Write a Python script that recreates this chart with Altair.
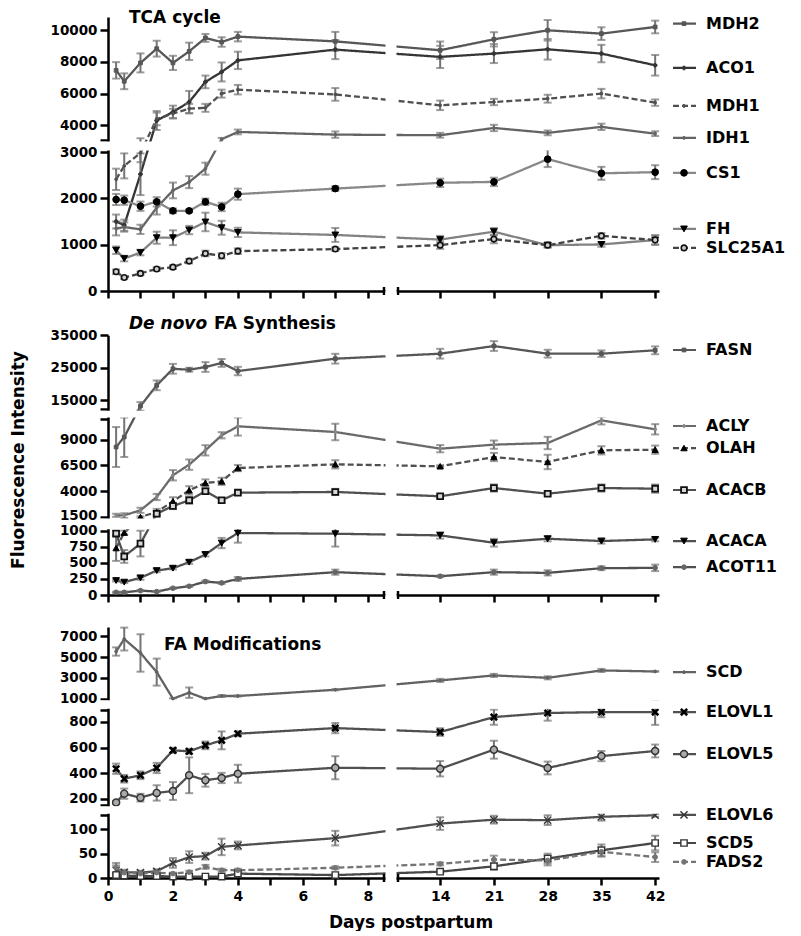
import altair as alt
import pandas as pd

# ---------------- data ----------------
DAYS = [0.25, 0.5, 1, 1.5, 2, 2.5, 3, 3.5, 4, 7, 14, 21, 28, 35, 42]

# TCA cycle
MDH2 = [7470, 6780, 7940, 8840, 7940, 8670, 9520, 9260, 9600, 9300, 8740, 9430, 10000, 9790, 10210]
MDH2_SEM = [520, 500, 600, 500, 450, 550, 250, 300, 300, 600, 550, 450, 650, 400, 400]
ACO1 = [1500, 1420, 2520, 4300, 4840, 5470, 6740, 7370, 8100, 8780, 8320, 8530, 8800, 8530, 7790]
ACO1_SEM = [150, 120, 450, 600, 400, 700, 400, 600, 550, 600, 700, 600, 650, 550, 650]
MDH1 = [2410, 2700, 2980, 4400, 4740, 5050, 5100, 6000, 6250, 5950, 5260, 5470, 5680, 6000, 5430]
MDH1_SEM = [230, 270, 200, 400, 300, 300, 250, 250, 300, 400, 300, 200, 250, 300, 200]
IDH1 = [1350, 1380, 1330, 1800, 2170, 2350, 2640, 3120, 3580, 3410, 3370, 3830, 3520, 3900, 3470]
IDH1_SEM = [150, 100, 100, 150, 170, 130, 130, 80, 150, 200, 150, 200, 150, 200, 150]
CS1 = [1975, 1960, 1830, 1925, 1730, 1730, 1925, 1815, 2090, 2210, 2335, 2355, 2845, 2540, 2565]
CS1_SEM = [120, 100, 100, 100, 50, 30, 70, 90, 120, 50, 90, 90, 170, 140, 150]
FH = [880, 700, 830, 1150, 1150, 1315, 1490, 1365, 1265, 1210, 1110, 1280, 990, 1005, 1100]
FH_SEM = [80, 60, 60, 130, 160, 90, 200, 150, 100, 150, 80, 80, 50, 50, 100]
SLC25A1 = [415, 290, 380, 475, 515, 645, 810, 760, 860, 905, 990, 1120, 990, 1190, 1100]
SLC25A1_SEM = [50, 30, 40, 40, 40, 50, 60, 60, 60, 40, 80, 90, 50, 60, 100]

# De novo FA synthesis
FASN = [8290, 9260, 13250, 19600, 24700, 24400, 25250, 26500, 24000, 27800, 29340, 31700, 29340, 29340, 30380]
FASN_SEM = [1940, 1940, 1200, 1500, 1500, 600, 1500, 1200, 1300, 1500, 1500, 1500, 1200, 1000, 1200]
ACLY = [1665, 1665, 2150, 3440, 5550, 6580, 7970, 9430, 10300, 9750, 8130, 8520, 8680, 10880, 10010]
ACLY_SEM = [150, 200, 250, 300, 500, 500, 500, 300, 900, 800, 350, 400, 600, 400, 500]
OLAH = [730, 970, 1500, 1990, 3020, 4090, 4800, 4960, 6250, 6610, 6420, 7320, 6840, 7970, 8030]
OLAH_SEM = [200, 30, 60, 300, 400, 400, 350, 350, 300, 400, 100, 400, 700, 400, 400]
ACACB = [955, 600, 800, 1820, 2570, 3120, 4000, 3120, 3860, 3930, 3510, 4310, 3760, 4310, 4250]
ACACB_SEM = [40, 100, 200, 250, 300, 350, 250, 200, 150, 300, 150, 350, 200, 350, 400]
ACACA = [225, 200, 267, 380, 417, 510, 630, 808, 964, 953, 927, 813, 875, 839, 865]
ACACA_SEM = [15, 15, 30, 25, 20, 25, 30, 80, 150, 200, 50, 60, 40, 40, 30]
ACOT11 = [42, 42, 68, 53, 105, 136, 209, 188, 250, 355, 292, 355, 344, 417, 422]
ACOT11_SEM = [10, 10, 10, 10, 10, 10, 15, 15, 30, 40, 15, 40, 40, 30, 50]

# FA modifications
SCD = [5540, 6740, 5400, 3560, 1000, 1580, 1000, 1260, 1260, 1860, 2760, 3240, 3010, 3720, 3620]
SCD_SEM = [400, 1100, 1800, 1300, 40, 500, 40, 100, 50, 50, 150, 150, 150, 150, 30]
ELOVL1 = [434, 356, 383, 440, 578, 570, 617, 656, 708, 752, 721, 838, 870, 877, 877]
ELOVL1_SEM = [40, 30, 30, 40, 20, 20, 30, 70, 20, 40, 30, 60, 60, 40, 100]
ELOVL5 = [170, 239, 208, 245, 260, 383, 344, 362, 395, 442, 434, 583, 440, 533, 573]
ELOVL5_SEM = [10, 40, 30, 60, 70, 140, 50, 40, 70, 90, 60, 70, 50, 40, 50]
ELOVL6 = [16, 12, 11, 14, 31, 43, 45, 64, 67, 82, 112, 120, 119, 126, 129]
ELOVL6_SEM = [10, 5, 4, 4, 10, 12, 7, 17, 8, 15, 13, 8, 10, 8, 3]
SCD5 = [6, 5, 4, 4, 3, 3, 3, 3, 9, 6, 13, 24, 40, 57, 72]
SCD5_SEM = [2, 2, 1, 1, 1, 1, 1, 1, 4, 2, 3, 7, 10, 12, 15]
FADS2 = [21, 11, 9, 11, 9, 12, 23, 16, 16, 21, 29, 38, 36, 54, 43]
FADS2_SEM = [10, 3, 3, 3, 2, 3, 4, 3, 3, 3, 3, 8, 10, 10, 10]

SEC1 = ["MDH2", "ACO1", "MDH1", "IDH1", "CS1", "FH", "SLC25A1"]
SEC2 = ["FASN", "ACLY", "OLAH", "ACACB", "ACACA", "ACOT11"]
SEC3 = ["SCD", "ELOVL1", "ELOVL5", "ELOVL6", "SCD5", "FADS2"]

VALUES = {
    "MDH2": (MDH2, MDH2_SEM), "ACO1": (ACO1, ACO1_SEM), "MDH1": (MDH1, MDH1_SEM),
    "IDH1": (IDH1, IDH1_SEM), "CS1": (CS1, CS1_SEM), "FH": (FH, FH_SEM),
    "SLC25A1": (SLC25A1, SLC25A1_SEM), "FASN": (FASN, FASN_SEM), "ACLY": (ACLY, ACLY_SEM),
    "OLAH": (OLAH, OLAH_SEM), "ACACB": (ACACB, ACACB_SEM), "ACACA": (ACACA, ACACA_SEM),
    "ACOT11": (ACOT11, ACOT11_SEM), "SCD": (SCD, SCD_SEM), "ELOVL1": (ELOVL1, ELOVL1_SEM),
    "ELOVL5": (ELOVL5, ELOVL5_SEM), "ELOVL6": (ELOVL6, ELOVL6_SEM), "SCD5": (SCD5, SCD5_SEM),
    "FADS2": (FADS2, FADS2_SEM),
}

# legend label anchors (data units on each panel's y scale)
LEG1 = [10420, 7620, 5220, 3200, 2550, 1340, 930]
LEG2 = [30480, 10330, 8190, 4120, 839, 433]
LEG3 = [3555, 877, 549, 130, 72, 33]

# ---------------- styles ----------------
XPATH = "M-1,-1L1,1M-1,1L1,-1"
# line colour, dash, shape, marker fill, marker stroke, marker size, marker stroke width
STYLE = {
    "MDH2": ("#575757", "solid", "square", "#575757", "#575757", 14, 1),
    "ACO1": ("#353535", "solid", "cross", "#353535", "#353535", 14, 1),
    "MDH1": ("#505050", "dashed", "circle", "#505050", "#505050", 8, 1),
    "IDH1": ("#646464", "solid", "circle", "#646464", "#646464", 8, 1),
    "CS1": ("#888888", "solid", "circle", "#000000", "#000000", 45, 1),
    "FH": ("#828282", "solid", "triangle-down", "#000000", "#000000", 45, 1),
    "SLC25A1": ("#424242", "dashed", "circle", "#cfcfcf", "#111111", 30, 1.6),
    "FASN": ("#575757", "solid", "square", "#575757", "#575757", 14, 1),
    "ACLY": ("#6a6a6a", "solid", "circle", "#888888", "#888888", 8, 1),
    "OLAH": ("#505050", "dashed", "triangle-up", "#000000", "#000000", 40, 1),
    "ACACB": ("#505050", "solid", "square", "#d8d8d8", "#111111", 34, 1.8),
    "ACACA": ("#505050", "solid", "triangle-down", "#000000", "#000000", 45, 1),
    "ACOT11": ("#505050", "solid", "circle", "#666666", "#666666", 22, 1),
    "SCD": ("#626262", "solid", "circle", "#626262", "#626262", 8, 1),
    "ELOVL1": ("#505050", "solid", XPATH, "transparent", "#000000", 40, 2.6),
    "ELOVL5": ("#505050", "solid", "circle", "#aaaaaa", "#333333", 50, 1.4),
    "ELOVL6": ("#505050", "solid", XPATH, "transparent", "#333333", 50, 1.4),
    "SCD5": ("#474747", "solid", "square", "#ffffff", "#333333", 40, 1.4),
    "FADS2": ("#747474", "dashed", "circle", "#747474", "#747474", 22, 1),
}
ERR = "#747474"
FONT = "DejaVu Sans"
DASH = alt.Scale(domain=["solid", "dashed"], range=[[1, 0], [6, 3]])

XDOMAIN = [0, 8.5, 8.51, 42.5]
XRANGE = [0, 276, 290, 551]
XTICKS = [0, 1, 2, 3, 4, 5, 6, 7, 8, 14, 21, 28, 35, 42]
W = 551


def style_cols(n):
    s = STYLE[n]
    return dict(lc=s[0], dash=s[1], shape=s[2], pf=s[3], ps=s[4], sz=s[5], sw=s[6])


def series_df(names):
    rows = []
    for n in names:
        vals, sems = VALUES[n]
        for d, m, e in zip(DAYS, vals, sems):
            r = dict(series=n, day=d, mean=m, lo=m - e, hi=m + e)
            r.update(style_cols(n))
            rows.append(r)
    return pd.DataFrame(rows)


def text_layer(txt, x, y, **kw):
    props = dict(font=FONT, fontWeight="bold", fontSize=17, color="black",
                 align="left", baseline="alphabetic")
    props.update(kw)
    return alt.Chart(pd.DataFrame({"t": [txt]})).mark_text(**props).encode(
        x=alt.value(x), y=alt.value(y), text="t:N")


def make_panel(names, ydom, yrng, height, labels, caps, gaps, leg_y, show_x, texts,
               nudge_up=None):
    df = series_df(names)
    xs = alt.Scale(domain=XDOMAIN, range=XRANGE, nice=False, zero=False)
    ys = alt.Scale(domain=ydom, range=yrng, nice=False, zero=False)
    xaxis = alt.Axis(values=XTICKS, title=None, labels=show_x, tickSize=7, labelPadding=4,
                     labelFontSize=14,
                     labelExpr="(datum.value < 8.5 && datum.value % 2 == 1) ? '' : datum.label")
    lab_list = ",".join(str(v) for v in labels)
    yaxis_kw = dict(values=sorted(labels + caps), title=None, format="d", tickSize=8,
                    labelPadding=3,
                    labelExpr="indexof([" + lab_list + "], datum.value) >= 0 ? datum.label : ''")
    if nudge_up is not None:
        yaxis_kw["labelOffset"] = {"condition": {"test": "datum.value == %s" % nudge_up,
                                                 "value": -2}, "value": 0}
    yaxis = alt.Axis(**yaxis_kw)

    def X(f):
        return alt.X(f, type="quantitative", scale=xs, axis=xaxis)

    def Y(f):
        return alt.Y(f, type="quantitative", scale=ys, axis=yaxis)

    marker_enc = dict(
        shape=alt.Shape("shape:N", scale=None),
        fill=alt.Fill("pf:N", scale=None),
        stroke=alt.Stroke("ps:N", scale=None),
        size=alt.Size("sz:Q", scale=None),
        strokeWidth=alt.StrokeWidth("sw:Q", scale=None),
    )
    base = alt.Chart(df)
    lines = base.mark_line(strokeWidth=2.3).encode(
        X("day"), Y("mean"), detail="series:N",
        stroke=alt.Stroke("lc:N", scale=None),
        strokeDash=alt.StrokeDash("dash:N", scale=DASH, legend=None))
    err = base.mark_rule(color=ERR, strokeWidth=2).encode(X("day"), Y("lo"), y2="hi:Q")
    cap_lo = base.mark_tick(color=ERR, orient="horizontal", size=8, thickness=2).encode(X("day"), Y("lo"))
    cap_hi = base.mark_tick(color=ERR, orient="horizontal", size=8, thickness=2).encode(X("day"), Y("hi"))
    pts = base.mark_point(opacity=1, fillOpacity=1).encode(X("day"), Y("mean"), **marker_enc)

    gdf = pd.DataFrame({"g0": [g[0] for g in gaps], "g1": [g[1] for g in gaps]})
    ygap = alt.Chart(gdf).mark_rect(color="white", yOffset=-1.5, y2Offset=1.5).encode(
        x=alt.value(-9), x2=alt.value(W + 2), y=Y("g0"), y2="g1:Q")
    xg = pd.DataFrame({"a": [XDOMAIN[1]], "b": [XDOMAIN[2]]})
    xgap = alt.Chart(xg).mark_rect(color="white", xOffset=1.5, x2Offset=-1.5).encode(
        x=X("a"), x2="b:Q", y=alt.value(0), y2=alt.value(height + 4))
    xcaps = alt.Chart(pd.DataFrame({"c": [XDOMAIN[1], XDOMAIN[2]]})).mark_rule(
        color="black", strokeWidth=2.5).encode(x=X("c"), y=alt.value(height - 4), y2=alt.value(height + 4))

    lrows = []
    for n, ly in zip(names, leg_y):
        r = dict(series=n, ly=ly)
        r.update(style_cols(n))
        lrows.append(r)
    ldf = pd.DataFrame(lrows)
    lrule = alt.Chart(ldf).mark_rule(strokeWidth=2.2).encode(
        x=alt.value(565), x2=alt.value(588), y=Y("ly"),
        stroke=alt.Stroke("lc:N", scale=None),
        strokeDash=alt.StrokeDash("dash:N", scale=DASH, legend=None))
    lpts = alt.Chart(ldf).mark_point(opacity=1, fillOpacity=1).encode(
        x=alt.value(576), y=Y("ly"), **marker_enc)
    ltxt = alt.Chart(ldf).mark_text(align="left", baseline="middle", font=FONT,
                                    fontWeight="bold", fontSize=16, color="black").encode(
        x=alt.value(598), y=Y("ly"), text="series:N")

    return alt.layer(lines, err, cap_lo, cap_hi, pts, ygap, xgap, xcaps,
                     lrule, lpts, ltxt, *texts).properties(width=W, height=height)


p1 = make_panel(
    SEC1,
    [0, 3000, 3070, 10840], [281, 142, 130, 7], 281,
    [0, 1000, 2000, 3000, 4000, 6000, 8000, 10000], [3070],
    [(3000, 3070)], LEG1, False,
    [text_layer("TCA cycle", 21, 13)])

p2 = make_panel(
    SEC2,
    [0, 1000, 1500, 11000, 12230, 35000], [304, 239.7, 226, 128.1, 118.3, 44.3], 304,
    [0, 250, 500, 750, 1000, 1500, 4000, 6500, 9000, 15000, 25000, 35000], [11000, 12230],
    [(1000, 1500), (11000, 12230)], LEG2, False,
    [text_layer("De novo", 21, 38, fontStyle="italic"),
     text_layer("FA Synthesis", 106, 38),
     text_layer("Fluorescence Intensity", -89, 169, angle=270, align="center", baseline="middle")],
    nudge_up=1500)

p3 = make_panel(
    SEC3,
    [0, 129, 153, 891, 1000, 7900], [283, 220.3, 209.7, 115.3, 103.7, 32], 283,
    [0, 50, 100, 200, 400, 600, 800, 1000, 3000, 5000, 7000], [129, 153, 891],
    [(129, 153), (891, 1000)], LEG3, True,
    [text_layer("FA Modifications", 56, 55),
     text_layer("Days postpartum", 303, 333, align="center")])

chart = alt.vconcat(p1, p2, p3, spacing=0, bounds="flush").properties(
    padding={"left": 2, "top": 1, "right": 0, "bottom": 0}
).configure_axis(
    labelFont=FONT, labelFontWeight="bold", labelFontSize=13.5, labelColor="black",
    domainColor="black", domainWidth=2.5, tickColor="black", tickWidth=2.5,
    grid=False, labelOverlap=False, labelFlush=False,
).configure_view(stroke=None)

chart.save("out.html", embed_options={"renderer": "svg", "actions": False})
